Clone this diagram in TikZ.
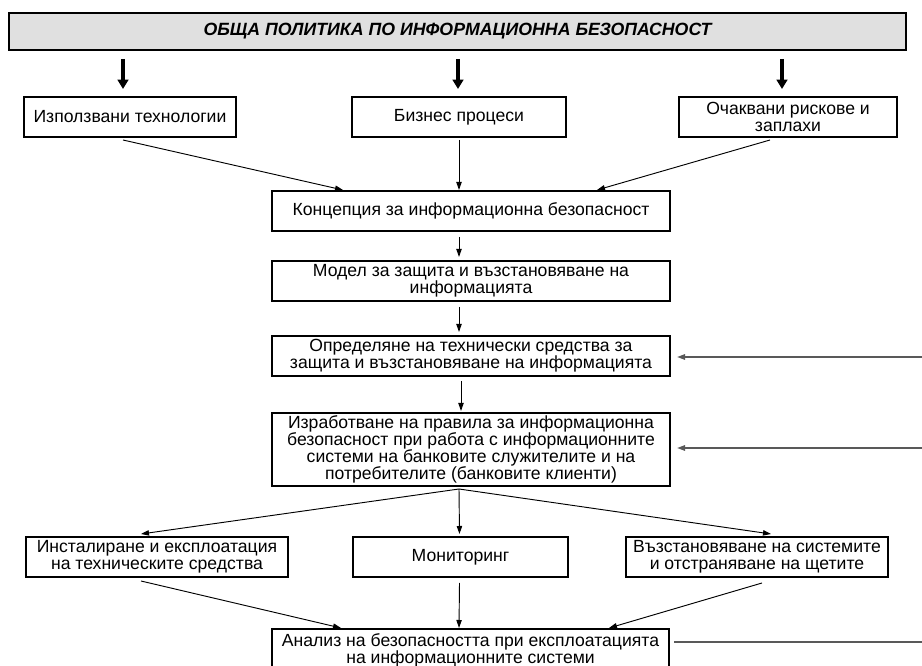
\documentclass[tikz,border=0pt]{standalone}
\usepackage{fontspec}
\setmainfont{Liberation Sans}
\usetikzlibrary{arrows.meta,calc}

\begin{document}
\begin{tikzpicture}[
    x=0.75pt, y=-0.75pt,
    stage/.style={draw, line width=1.5pt, fill=white, align=center, inner sep=0pt,
                  minimum height=30pt, font=\fontsize{13.2}{12.6}\selectfont},
    flow/.style={-{Triangle[length=6pt,width=4pt]}, line width=0.7pt},
    heavy/.style={-{Triangle[length=7pt,width=8pt]}, line width=2.4pt},
    feed/.style={line width=1.3pt, draw=black!65}
]
\useasboundingbox (0,0) rectangle (922,666);
\clip (0,0) rectangle (922,666);

% ======================
% Policy banner
% ======================
\node[draw, line width=1.5pt, fill=black!12, minimum width=672.75pt, minimum height=27.75pt,
      font=\fontsize{13.3}{14}\selectfont\bfseries\itshape] (policy) at (457.5,31.5)
    {ОБЩА ПОЛИТИКА ПО ИНФОРМАЦИОННА БЕЗОПАСНОСТ};

% ======================
% Inputs
% ======================
\node[stage, minimum width=159pt]   (tech)  at (130,117) {Използвани технологии};
\node[stage, minimum width=160.5pt] (proc)  at (459,117) {Бизнес процеси};
\node[stage, minimum width=163.5pt] (risk)  at (788,117) {Очаквани рискове и\\заплахи};

% ======================
% Main chain
% ======================
\node[stage, minimum width=298.5pt] (concept) at (471,211) {Концепция за информационна безопасност};
\node[stage, minimum width=298.5pt] (model)   at (471,281) {Модел за защита и възстановяване на\\информацията};
\node[stage, minimum width=298.5pt] (means)   at (471,356) {Определяне на технически средства за\\защита и възстановяване на информацията};
\node[stage, minimum width=298.5pt, minimum height=54.75pt] (rules) at (471,449.5)
    {Изработване на правила за информационна\\безопасност при работа с информационните\\системи на банковите служителите и на\\потребителите (банковите клиенти)};

% ======================
% Activities
% ======================
\node[stage, minimum width=196.5pt] (install) at (157,557)   {Инсталиране и експлоатация\\на техническите средства};
\node[stage, minimum width=161pt]   (monitor) at (460.5,557) {Мониторинг};
\node[stage, minimum width=196.5pt] (recover) at (757,557)   {Възстановяване на системите\\и отстраняване на щетите};

\node[stage, minimum width=298pt, minimum height=0pt, inner ysep=3.5pt, anchor=north] (analysis) at (470.5,628)
    {Анализ на безопасността при експлоатацията\\на информационните системи};

% ======================
% Connections
% ======================
\draw[heavy] ($(policy.south -| tech.north)+(-7,8)$) -- ($(tech.north)+(-7,-7)$);
\draw[heavy] ($(policy.south -| proc.north)+(-1,8)$) -- ($(proc.north)+(-1,-7)$);
\draw[heavy] ($(policy.south -| risk.north)+(-6,8)$) -- ($(risk.north)+(-6,-7)$);

\draw[flow] ($(tech.south)+(-7,2)$)  -- ($(concept.north)+(-128,0)$);
\draw[flow] ($(proc.south)+(0,2)$)   -- ($(concept.north)+(-12,0)$);
\draw[flow] ($(risk.south)+(-18,2)$) -- ($(concept.north)+(126,0)$);

\draw[flow] ($(concept.south)+(-12,5)$) -- ($(model.north)+(-12,-3)$);
\draw[flow] ($(model.south)+(-12,5)$)   -- ($(means.north)+(-12,-3)$);
\draw[flow] ($(means.south)+(-10,4)$)   -- ($(rules.north)+(-10,-1)$);

\foreach \t/\dx in {install/-16, monitor/-1, recover/14} {
    \draw[flow] ($(rules.south)+(-12,2)$) -- ($(\t.north)+(\dx,-2)$);
}

\draw[flow] ($(install.south)+(-16,3)$) -- ($(analysis.north)+(-129.5,0)$);
\draw[flow] ($(monitor.south)+(-1,5)$)  -- ($(analysis.north)+(-11.5,0)$);
\draw[flow] ($(recover.south)+(5,5)$)   -- ($(analysis.north)+(138.5,0)$);

% Feedback from the analysis (continues past the right edge)
\coordinate (fbMeans) at (922,357);
\coordinate (fbRules) at (922,448);
\coordinate (fbOut)   at (922,642);
\draw[feed, -{Triangle[length=6pt,width=4pt]}] (fbMeans) -- ($(means.east)+(6,1)$);
\draw[feed, -{Triangle[length=6pt,width=4pt]}] (fbRules) -- ($(rules.east)+(6,-1.5)$);
\draw[feed] ($(analysis.north east)+(4,14)$) -- (fbOut);

\end{tikzpicture}
\end{document}
